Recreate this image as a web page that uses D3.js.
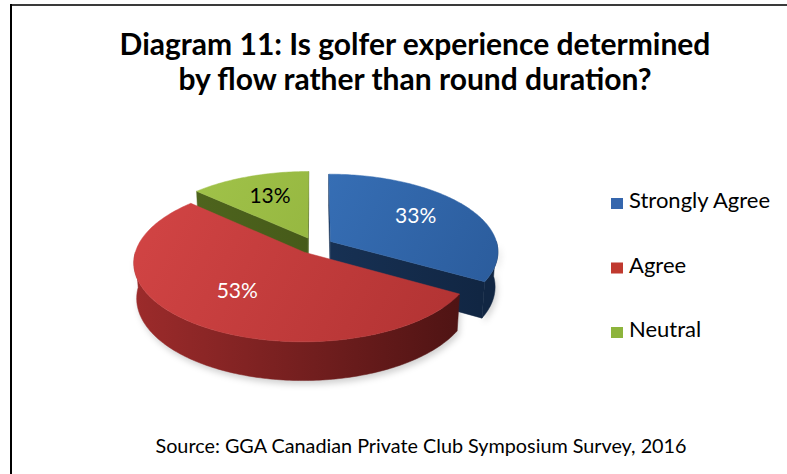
<!DOCTYPE html>
<html>
<head>
<meta charset="utf-8">
<script src="https://cdn.jsdelivr.net/npm/d3@7"></script>
<style>
  body { margin: 0; background: #fff; }
  svg { display: block; font-family: Lato, "Open Sans", sans-serif; }
</style>
</head>
<body>
<div id="container"></div>
<script>
/* DATA */
const categories = ["Strongly Agree", "Agree", "Neutral"];
const values = [33, 53, 13];
const valueLabels = ["33%", "53%", "13%"];
const titleLines = ["Diagram 11: Is golfer experience determined", "by flow rather than round duration?"];
const sourceText = "Source: GGA Canadian Private Club Symposium Survey, 2016";

/* STYLES */
const topColors  = [["#3f7dc9", "#2b5c9c"], ["#d34545", "#b03232"], ["#a4c64c", "#88a936"]];
const sideColors = [["#1f3f69", "#112643"], ["#9c2b2b", "#4a1212"], ["#52691f", "#3a4c14"]];
const keyColors  = ["#3566ad", "#c0392f", "#8db43c"];
const labelColors = ["#fff", "#fff", "#000"];

/* CONSTANTS */
const width = 787, height = 474;
const R = 167, depth = 40, explode = 18, focal = 1188;
const tilt = 27.3 * Math.PI / 180;
const cx = 315, cy = 245.5;

const svg = d3.select("#container").append("svg")
    .attr("width", width)
    .attr("height", height);

const defs = svg.append("defs");

/* FRAME */
svg.append("line").attr("x1", 11).attr("x2", width).attr("y1", 5).attr("y2", 5)
   .attr("stroke", "#3a3a3a").attr("stroke-width", 2);
svg.append("line").attr("x1", 11).attr("x2", 11).attr("y1", 4).attr("y2", height)
   .attr("stroke", "#000").attr("stroke-width", 2);

/* TITLE */
svg.append("text")
    .attr("text-anchor", "middle")
    .style("font-weight", "bold")
    .style("font-size", "30px")
    .selectAll("tspan")
    .data(titleLines)
    .join("tspan")
    .attr("x", 415)
    .attr("y", (d, i) => 55 + i * 35)
    .text(d => d);

/* 3D PROJECTION */
function project(u, v, z) {
  const Y = v * Math.sin(tilt) + z * Math.cos(tilt);
  const Z = v * Math.cos(tilt) - z * Math.sin(tilt);
  const s = focal / (focal + Z);
  return [cx + u * s, cy - Y * s];
}
function depthOf(u, v, z) {
  return v * Math.cos(tilt) - z * Math.sin(tilt);
}
const cam = [0, -focal * Math.cos(tilt)];

const pie = d3.pie().sort(null).value(d => d);
const arcs = pie(values);

const slices = arcs.map((a, i) => {
  const mid = (a.startAngle + a.endAngle) / 2;
  return {
    i: i,
    a0: a.startAngle,
    a1: a.endAngle,
    mid: mid,
    ou: explode * Math.sin(mid),
    ov: explode * Math.cos(mid)
  };
});

function rim(s, a, r) {
  return [s.ou + r * Math.sin(a), s.ov + r * Math.cos(a)];
}
function arcPts(s, a0, a1, z) {
  const n = Math.max(2, Math.ceil(Math.abs(a1 - a0) / (Math.PI / 180)));
  const pts = [];
  for (let k = 0; k <= n; k++) {
    const a = a0 + (a1 - a0) * k / n;
    const p = rim(s, a, R);
    pts.push(project(p[0], p[1], z));
  }
  return pts;
}
const line = d3.line();

/* GRADIENTS */
slices.forEach(s => {
  const gt = defs.append("linearGradient").attr("id", "top" + s.i)
      .attr("gradientUnits", "userSpaceOnUse")
      .attr("x1", 140).attr("y1", 170).attr("x2", 470).attr("y2", 340);
  gt.append("stop").attr("offset", 0).attr("stop-color", topColors[s.i][0]);
  gt.append("stop").attr("offset", 1).attr("stop-color", topColors[s.i][1]);
  const gs = defs.append("linearGradient").attr("id", "side" + s.i)
      .attr("gradientUnits", "userSpaceOnUse")
      .attr("x1", 135).attr("y1", 0).attr("x2", 480).attr("y2", 0);
  gs.append("stop").attr("offset", 0).attr("stop-color", sideColors[s.i][0]);
  gs.append("stop").attr("offset", 1).attr("stop-color", sideColors[s.i][1]);
});
defs.append("filter").attr("id", "blur")
    .append("feGaussianBlur").attr("stdDeviation", 3);

/* WALLS */
const walls = [];
slices.forEach(s => {
  // radial walls
  [[s.a0, s.a0 - Math.PI / 2], [s.a1, s.a1 + Math.PI / 2]].forEach(([a, n]) => {
    const dot = (cam[0] - s.ou) * Math.sin(n) + (cam[1] - s.ov) * Math.cos(n);
    if (dot <= 0) return;
    const p = rim(s, a, R);
    const pts = [
      project(s.ou, s.ov, 0), project(p[0], p[1], 0),
      project(p[0], p[1], -depth), project(s.ou, s.ov, -depth)
    ];
    walls.push({ i: s.i, pts: pts, z: depthOf((s.ou + p[0]) / 2, (s.ov + p[1]) / 2, -depth / 2) });
  });
  // outer wall (front facing part)
  const lo = Math.max(s.a0, Math.PI / 2), hi = Math.min(s.a1, 3 * Math.PI / 2);
  if (hi > lo) {
    const top = arcPts(s, lo, hi, 0);
    const bot = arcPts(s, hi, lo, -depth);
    const m = rim(s, (lo + hi) / 2, R);
    walls.push({ i: s.i, pts: top.concat(bot), z: depthOf(m[0], m[1], -depth / 2), outer: true });
  }
});
walls.sort((a, b) => b.z - a.z);

/* SHADOW */
svg.append("g").attr("filter", "url(#blur)")
  .selectAll("path")
  .data(walls.filter(w => w.outer))
  .join("path")
    .attr("d", d => line(d.pts) + "Z")
    .attr("transform", "translate(2,4)")
    .attr("fill", "#000")
    .attr("opacity", 0.18);

svg.append("g")
  .selectAll("path")
  .data(walls)
  .join("path")
    .attr("d", d => line(d.pts) + "Z")
    .attr("fill", d => "url(#side" + d.i + ")")
    .attr("stroke", d => "url(#side" + d.i + ")")
    .attr("stroke-width", 0.5);

/* TOPS */
svg.append("g")
  .selectAll("path")
  .data(slices)
  .join("path")
    .attr("d", s => line([project(s.ou, s.ov, 0)].concat(arcPts(s, s.a0, s.a1, 0))) + "Z")
    .attr("fill", s => "url(#top" + s.i + ")")
    .attr("stroke", s => "url(#top" + s.i + ")")
    .attr("stroke-width", 0.5);

/* DATA LABELS */
svg.append("g")
  .selectAll("text")
  .data(slices)
  .join("text")
    .attr("transform", s => {
      const p = rim(s, s.mid, R * 0.62);
      const q = project(p[0], p[1], 0);
      return "translate(" + q[0] + "," + q[1] + ")";
    })
    .attr("text-anchor", "middle")
    .attr("dy", "0.2em")
    .style("font-size", "21px")
    .attr("fill", s => labelColors[s.i])
    .text(s => valueLabels[s.i]);

/* LEGEND */
const legend = svg.append("g")
  .selectAll("g")
  .data(categories)
  .join("g")
    .attr("transform", (d, i) => "translate(611," + (208 + i * 64.5) + ")");

legend.append("rect")
    .attr("x", 0).attr("y", -10)
    .attr("width", 12).attr("height", 11)
    .attr("fill", (d, i) => keyColors[i]);

legend.append("text")
    .attr("x", 18)
    .attr("y", 0)
    .style("font-size", "22px")
    .text(d => d);

/* SOURCE */
svg.append("text")
    .attr("x", 421)
    .attr("y", 453)
    .attr("text-anchor", "middle")
    .style("font-size", "19.8px")
    .text(sourceText);
</script>
</body>
</html>
